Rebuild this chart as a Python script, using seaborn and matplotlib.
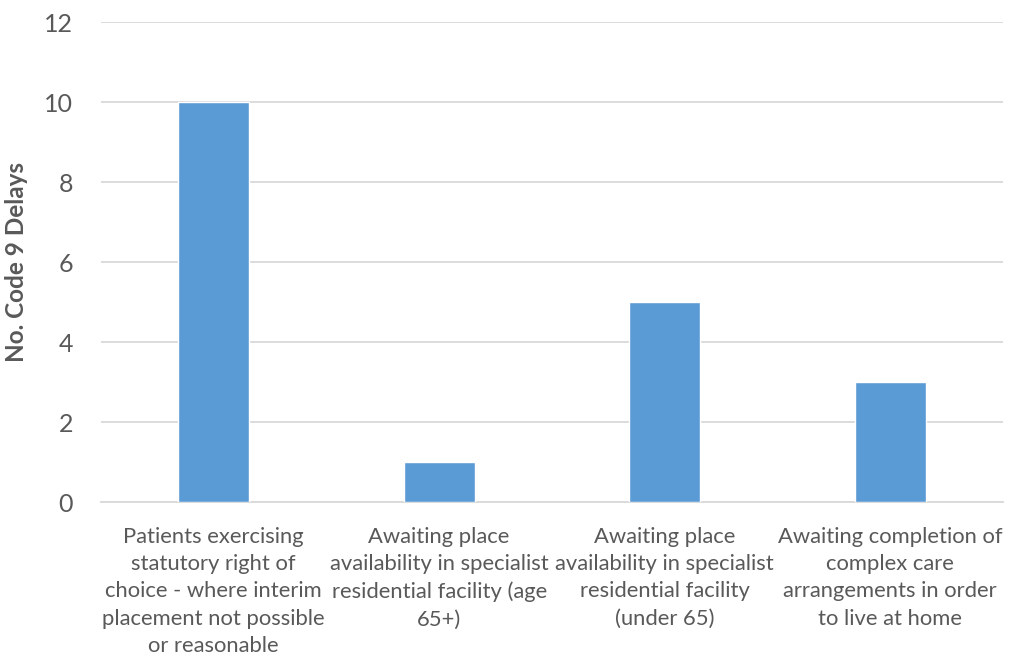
import matplotlib
matplotlib.use("Agg")
import matplotlib.pyplot as plt
import seaborn as sns
import pandas as pd

# data
categories = [
    "Patients exercising\nstatutory right of\nchoice - where interim\nplacement not possible\nor reasonable",
    "Awaiting place\navailability in specialist\nresidential facility (age\n65+)",
    "Awaiting place\navailability in specialist\nresidential facility\n(under 65)",
    "Awaiting completion of\ncomplex care\narrangements in order\nto live at home",
]
delays = [10, 1, 5, 3]
y_ticks = [0, 2, 4, 6, 8, 10, 12]

sns.set_theme(style="white")
plt.rcParams['font.family'] = ['Lato', 'DejaVu Sans']

text_grey = "#595959"
bar_blue = "#5B9BD5"

df = pd.DataFrame({"Category": categories, "Delays": delays})

fig = plt.figure(figsize=(10.26, 6.61), dpi=100)
ax = fig.add_axes([0.0984, 0.2405, 0.879, 0.7262])

sns.barplot(data=df, x="Category", y="Delays", color=bar_blue, width=0.315,
            saturation=1, ax=ax, zorder=3)

ax.set_ylim(0, 12)
ax.set_yticks(y_ticks)
ax.set_xlim(-0.5, len(categories) - 0.5)
ax.grid(axis='y', color="#D9D9D9", linewidth=1.3, zorder=0)
ax.set_axisbelow(True)

for s in ["top", "right", "left"]:
    ax.spines[s].set_visible(False)
ax.spines["bottom"].set_color("#D9D9D9")
ax.spines["bottom"].set_linewidth(1.3)

ax.tick_params(axis='y', length=0, pad=20, labelsize=18, labelcolor=text_grey)
ax.tick_params(axis='x', length=0, pad=18, labelsize=15.8, labelcolor=text_grey)
for lbl in ax.get_xticklabels():
    lbl.set_linespacing(1.45)

ax.set_xlabel("")
ax.set_ylabel("No. Code 9 Delays", fontsize=17.5, fontweight='bold', color=text_grey, labelpad=12)

fig.savefig("out.png", dpi=100)
